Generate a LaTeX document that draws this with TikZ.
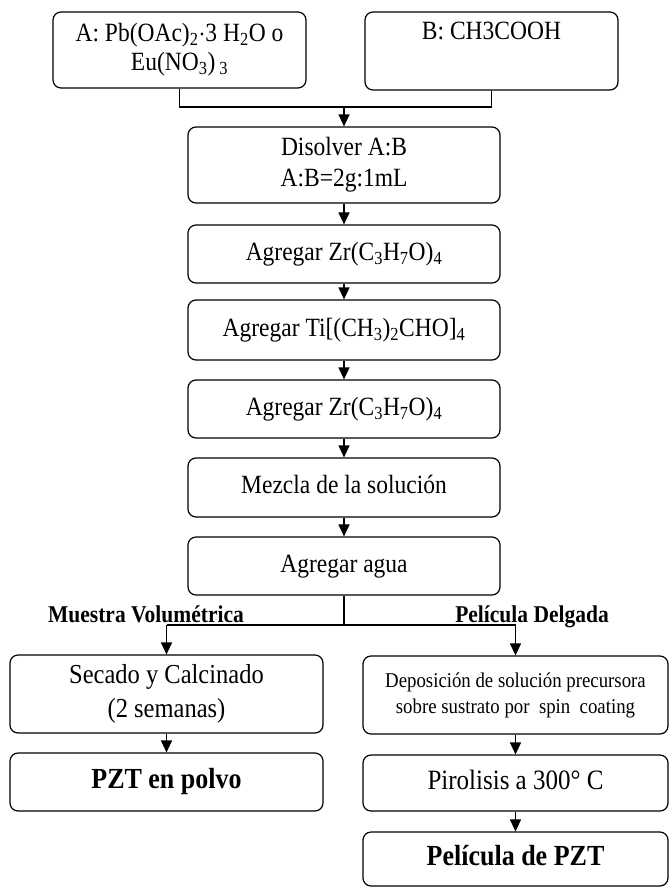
\documentclass[tikz,border=0pt]{standalone}
\usepackage{fontspec}
\usepackage{graphicx}
\setmainfont{Liberation Serif}
\usetikzlibrary{arrows.meta}
\newcommand{\sub}[1]{\textsubscript{#1}}
\newcommand{\tx}[2][1pt]{\scalebox{1}[1.12]{\begin{tabular}{@{}c@{}}#2\end{tabular}}}
\begin{document}
\begin{tikzpicture}[x=1pt,y=-1pt,
  box/.style={draw, line width=1.2pt, rounded corners=8pt, align=center, inner sep=0pt,
    font=\fontsize{23.5}{27}\selectfont},
  arr/.style={line width=1.2pt, -{Triangle[width=11pt,length=12pt]}},
  ln/.style={line width=1.2pt},
  lbl/.style={font=\fontsize{21.5}{24}\selectfont\bfseries, inner sep=0pt, anchor=base}]
\useasboundingbox (0,0) rectangle (669,887);
\node[box, minimum width=253pt, minimum height=76pt] (A) at (179.5,50)
  {\tx{A: Pb(OAc)\sub{2}$\cdot$3 H\sub{2}O o\\[-1pt] Eu(NO\sub{3})\,\sub{3}}};
\node[box, minimum width=253pt, minimum height=78pt] (B) at (491.5,51)
  {\tx{B: CH3COOH\\[4pt]~}};
\coordinate (jtop) at (344,107);
\node[box, minimum width=312pt, minimum height=76pt] (dis) at (344,165)
  {\tx{Disolver A:B\\[1pt] A:B=2g:1mL}};
\node[box, minimum width=312pt, minimum height=58pt] (zr1) at (344,254)
  {\tx{Agregar Zr(C\sub{3}H\sub{7}O)\sub{4}}};
\node[box, minimum width=312pt, minimum height=60pt] (ti) at (344,330)
  {\tx{Agregar Ti[(CH\sub{3})\sub{2}CHO]\sub{4}}};
\node[box, minimum width=312pt, minimum height=58pt] (zr2) at (344,409)
  {\tx{Agregar Zr(C\sub{3}H\sub{7}O)\sub{4}}};
\node[box, minimum width=312pt, minimum height=59pt] (mez) at (344,487.5)
  {\tx{Mezcla de la solución}};
\node[box, minimum width=312pt, minimum height=58pt] (agua) at (344,566)
  {\tx{Agregar agua}};
\coordinate (jb) at (344,625);
\node[box, minimum width=313pt, minimum height=78pt, font=\fontsize{24.5}{29}\selectfont] (sec) at (166.5,694)
  {\tx{Secado y Calcinado\\[1pt] (2 semanas)}};
\node[box, minimum width=313pt, minimum height=58pt, font=\fontsize{26}{30}\selectfont\bfseries] (pol) at (166.5,782)
  {\tx{PZT en polvo}};
\node[box, minimum width=305pt, minimum height=78pt, font=\fontsize{18.8}{23}\selectfont] (dep) at (515.5,695)
  {\tx{Deposición de solución precursora\\ sobre sustrato por~ spin~ coating}};
\node[box, minimum width=305pt, minimum height=56pt, font=\fontsize{25}{29}\selectfont] (pir) at (515.5,783)
  {\tx{Pirolisis a 300° C}};
\node[box, minimum width=305pt, minimum height=54pt, font=\fontsize{26}{30}\selectfont\bfseries] (pel) at (515.5,859)
  {\tx{Película de PZT}};
\node[lbl] (lv) at (146,622) {\scalebox{1}[1.12]{Muestra Volumétrica}};
\node[lbl] (ld) at (532,622) {\scalebox{1}[1.12]{Película Delgada}};
% connectors
\draw[ln] (A.south) |- (jtop) -| (B.south);
\draw[arr] (jtop) -- (dis.north);
\draw[arr] (dis) -- (zr1);
\draw[arr] (zr1) -- (ti);
\draw[arr] (ti) -- (zr2);
\draw[arr] (zr2) -- (mez);
\draw[arr] (mez) -- (agua);
\draw[ln] (agua.south) -- (jb);
\draw[ln] (sec.north |- jb) -- (dep.north |- jb);
\draw[arr] (sec.north |- jb) -- (sec.north);
\draw[arr] (dep.north |- jb) -- (dep.north);
\draw[arr] (sec) -- (pol);
\draw[arr] (dep) -- (pir);
\draw[arr] (pir) -- (pel);
\end{tikzpicture}
\end{document}
